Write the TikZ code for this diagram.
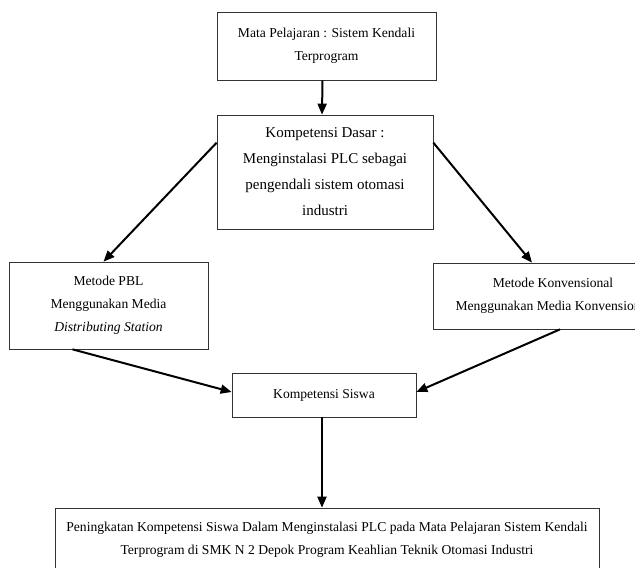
\documentclass[tikz,border=0pt]{standalone}
\usepackage{fontspec}
\setmainfont{Liberation Serif}
\usepackage{tikz}
\usetikzlibrary{arrows.meta, positioning, calc}
\tikzset{
  box/.style={draw=black!80, line width=0.7pt, inner sep=0pt, align=center, fill=white,
    font=\fontsize{13.6}{23}\selectfont},
  link/.style={-{Triangle[length=11pt, width=9pt]}, line width=2pt}
}

\begin{document}
\begin{tikzpicture}[x=1pt, y=-1pt]
        \useasboundingbox (0,0) rectangle (635,568);
        \clip (0,0) rectangle (635,568);

        % Boxes
        \node[box, minimum width=219pt, minimum height=68pt]  (mapel) at (326.5, 46) {Mata Pelajaran : Sistem Kendali\\Terprogram};
        \node[box, minimum width=216pt, minimum height=114pt, font=\fontsize{15}{26}\selectfont] (kd) at (325, 172)
          {Kompetensi Dasar :\\Menginstalasi PLC sebagai\\pengendali sistem otomasi\\industri};
        \node[box, minimum width=199pt, minimum height=87pt]  (pbl) at (108.5, 305.5)
          {Metode PBL\\Menggunakan Media\\\textit{Distributing Station}};
        \node[box, minimum width=240pt, minimum height=66pt]  (konv) at (553, 296)
          {Metode Konvensional\\Menggunakan Media Konvensional};
        \node[box, minimum width=184pt, minimum height=44pt]  (siswa) at (324, 395) {Kompetensi Siswa};
        \node[box, minimum width=544pt, minimum height=64pt]  (hasil) at (327, 540)
          {Peningkatan Kompetensi Siswa Dalam Menginstalasi PLC pada Mata Pelajaran Sistem Kendali\\Terprogram di SMK N 2 Depok Program Keahlian Teknik Otomasi Industri};

        % Arrows
        \draw[link] ($(mapel.south)+(-4,0)$) -- ($(kd.north)+(-3,0)$);
        \draw[link] ($(kd.north west)+(0,28)$) -- ($(pbl.north)+(-5,0)$);
        \draw[link] ($(kd.north east)+(0,28)$) -- ($(konv.north)+(-21,0)$);
        \draw[link] ($(pbl.south)+(-36,0)$) -- ($(siswa.west)+(0,-3)$);
        \draw[link] ($(konv.south)+(7,0)$) -- ($(siswa.east)+(0,-3)$);
        \draw[link] ($(siswa.south)+(-2,0)$) -- ($(hasil.north)+(-5,0)$);
    \end{tikzpicture}
\end{document}
